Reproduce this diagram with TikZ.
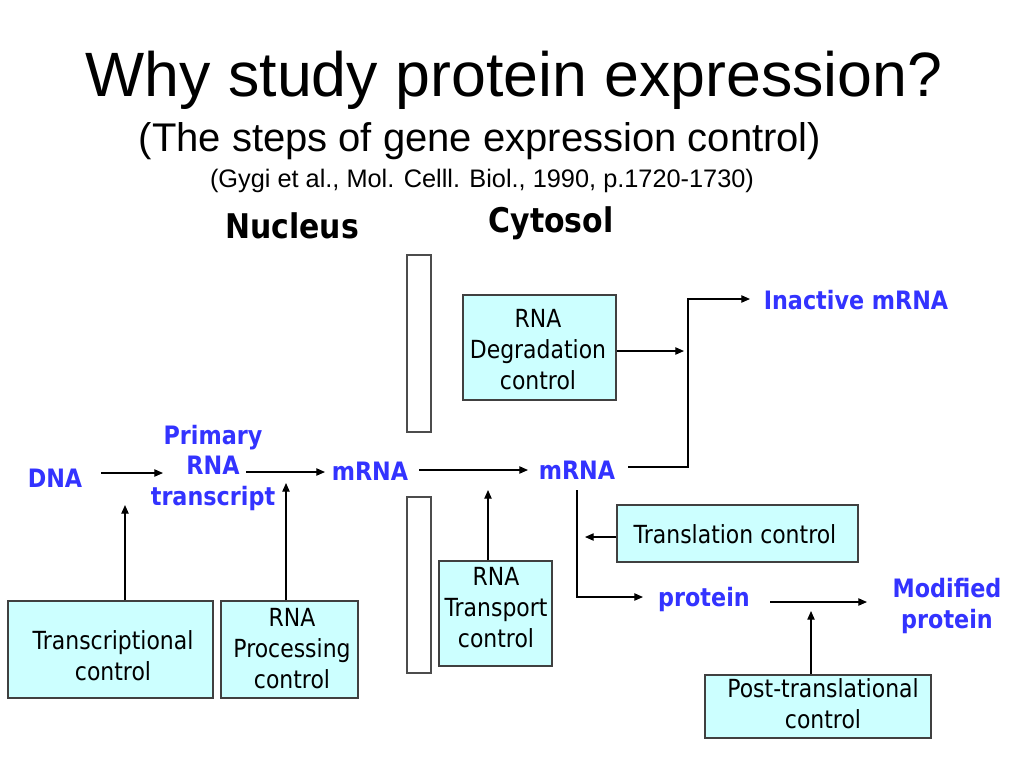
\documentclass[tikz,border=0pt]{standalone}
\usepackage{fontspec}
\setmainfont{Liberation Sans}
\newfontfamily\tah[FakeStretch=0.88]{DejaVu Sans}
\usetikzlibrary{arrows.meta}
\definecolor{boxfill}{RGB}{204,255,255}
\definecolor{lblue}{RGB}{51,51,255}
\begin{document}
\begin{tikzpicture}[x=0.75pt,y=-0.75pt,
  ctrl/.style={draw=black!75, fill=boxfill, line width=0.9pt, inner sep=0pt},
  ctext/.style={align=center, inner sep=0pt, font=\tah\fontsize{18.7}{23.25}\selectfont},
  lbl/.style={text=lblue, align=center, inner sep=0pt, font=\tah\bfseries\fontsize{19}{23}\selectfont},
  head/.style={font=\tah\bfseries\fontsize{25.5}{30}\selectfont, inner sep=0pt},
  arr/.style={-{Triangle[length=6.5pt,width=5.5pt]}, line width=0.9pt},
  memb/.style={draw=black!70, fill=white, line width=0.9pt}]
\useasboundingbox[fill=white] (0,0) rectangle (1024,768);

% titles
\node[font=\fontsize{47}{56}\selectfont] (title) at (514,80) {Why study protein expression?};
\node[font=\fontsize{30}{36}\selectfont] (sub) at (480,141) {(The steps of gene expression control)};
\node[font=\fontsize{19}{23}\selectfont] (cite) at (482,181) {(Gygi et al., Mol. Celll. Biol., 1990, p.1720-1730)};
\node[head] (nuc) at (292,226) {Nucleus};
\node[head] (cyt) at (551,223) {Cytosol};

% membrane
\draw[memb] (407,255) rectangle (431,432);
\draw[memb] (407,497) rectangle (431,673);

% control boxes
\node[ctrl, minimum width=153.75pt, minimum height=72.75pt] (tc) at (110.5,649.5) {};
\node[ctext] (tct) at (113,655.5) {Transcriptional\\control};
\node[ctrl, minimum width=102.75pt, minimum height=72.75pt] (rp) at (289.5,649.5) {};
\node[ctext] (rpt) at (292,648.5) {RNA\\Processing\\control};
\node[ctrl, minimum width=84.75pt, minimum height=78.75pt] (rt) at (495.5,613.5) {};
\node[ctext] (rtt) at (496,607.5) {RNA\\Transport\\control};
\node[ctrl, minimum width=114.75pt, minimum height=78.75pt] (rd) at (539.5,347.5) {};
\node[ctext] (rdt) at (538,350) {RNA\\Degradation\\control};
\node[ctrl, minimum width=180.75pt, minimum height=42.75pt] (tl) at (737.5,533.5) {};
\node[ctext] (tlt) at (735,534) {Translation control};
\node[ctrl, minimum width=169.5pt, minimum height=47.25pt] (pt) at (818,706.5) {};
\node[ctext] (ptt) at (823,704) {Post-translational\\control};

% molecule labels
\node[lbl] (dna) at (55,478) {DNA};
\node[lbl] (prim) at (213,468) {Primary\\RNA\\transcript};
\node[lbl] (m1) at (370,471) {mRNA};
\node[lbl] (m2) at (577,470) {mRNA};
\node[lbl] (inact) at (856,300) {Inactive mRNA};
\node[lbl] (prot) at (704,599) {protein};
\node[lbl] (mod) at (947,606) {Modified\\protein};

% connector end points
\coordinate (dnaR) at (101,473);
\coordinate (primL) at (163,473);
\coordinate (primR) at (246,472);
\coordinate (m1L) at (325,472);
\coordinate (m1R) at (419,470);
\coordinate (m2L) at (528,470);
\coordinate (m2R) at (628,467);
\coordinate (m2B) at (577,490);
\coordinate (inL) at (750,299);
\coordinate (protL) at (643,597);
\coordinate (protR) at (770,602);
\coordinate (modL) at (867,602);
\coordinate (tcA) at (125,505);
\coordinate (rpA) at (286,483);
\coordinate (rtA) at (488,490);
\coordinate (rdA) at (684,351);
\coordinate (tlA) at (585,537);
\coordinate (ptA) at (811,611);

% connectors
\draw[arr] (dnaR) -- (primL);
\draw[arr] (primR) -- (m1L);
\draw[arr] (m1R) -- (m2L);
\draw[arr] (m2R) -- ++(60,0) |- (inL);
\draw[arr] (m2B) |- (protL);
\draw[arr] (protR) -- (modL);
\draw[arr] (tc.north -| tcA) -- (tcA);
\draw[arr] (rp.north -| rpA) -- (rpA);
\draw[arr] (rt.north -| rtA) -- (rtA);
\draw[arr] (rd.east |- rdA) -- (rdA);
\draw[arr] (tl.west |- tlA) -- (tlA);
\draw[arr] (pt.north -| ptA) -- (ptA);
\end{tikzpicture}
\end{document}
